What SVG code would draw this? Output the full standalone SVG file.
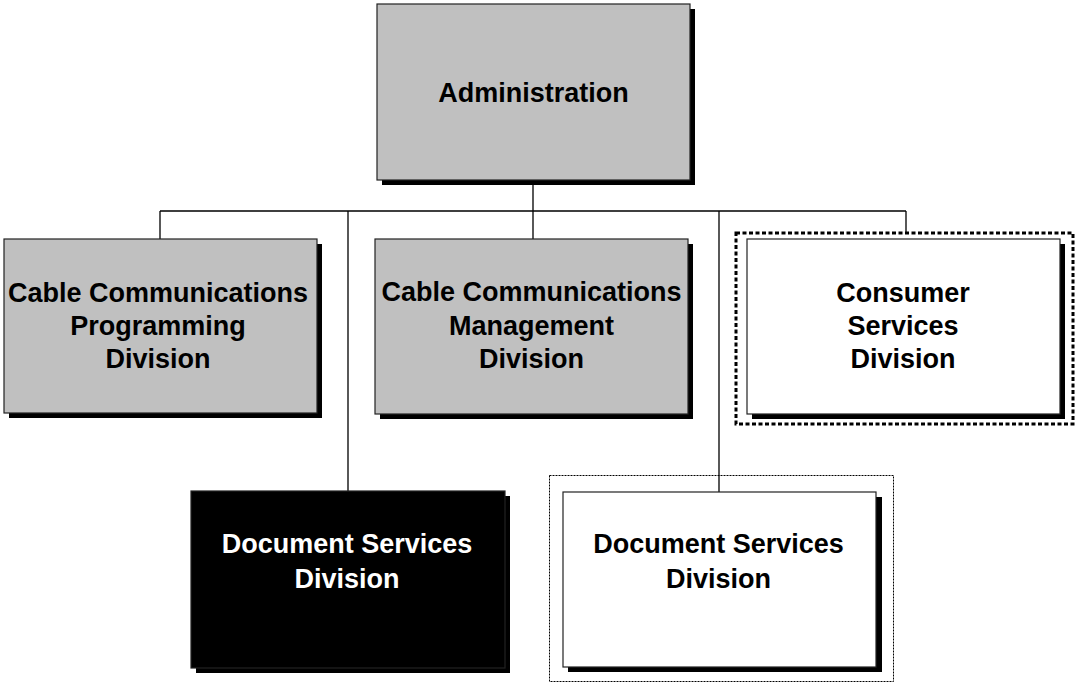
<svg xmlns="http://www.w3.org/2000/svg" width="1076" height="685" viewBox="0 0 1076 685">
<style>
.shadow{fill:#000}
.box{stroke:#222;stroke-width:1.2}
.gray{fill:#c0c0c0}
.white{fill:#fff}
.black{fill:#000}
.conn{stroke:#000;stroke-width:1.3;fill:none}
text{font-family:"Liberation Sans",Arial,sans-serif;font-weight:bold;font-size:27px;text-anchor:middle}
.dk{fill:#000}
.lt{fill:#fff}
.thickdot{fill:none;stroke:#000;stroke-width:3;stroke-dasharray:4 2.5}
.thindot{fill:none;stroke:#000;stroke-width:1;stroke-dasharray:2 1}
</style>
<rect width="1076" height="685" fill="#fff"/>
<g id="connectors">
<path class="conn" d="M533,181 V211 M160,211 H906 M160,211 V239 M348,211 V491 M533,211 V239 M719,211 V492 M906,211 V232"/>
</g>
<g id="administration">
<rect class="shadow" x="382" y="9" width="313" height="176"/>
<rect class="box gray" x="377" y="4" width="313" height="176"/>
<text class="dk" x="533.5" y="102">Administration</text>
</g>
<g id="cc-programming">
<rect class="shadow" x="9" y="244" width="313" height="174"/>
<rect class="box gray" x="4" y="239" width="313" height="174"/>
<text class="dk" x="158" y="302">Cable Communications</text>
<text class="dk" x="158" y="335">Programming</text>
<text class="dk" x="158" y="368">Division</text>
</g>
<g id="cc-management">
<rect class="shadow" x="380" y="244" width="313" height="175"/>
<rect class="box gray" x="375" y="239" width="313" height="175"/>
<text class="dk" x="531.5" y="301">Cable Communications</text>
<text class="dk" x="531.5" y="335">Management</text>
<text class="dk" x="531.5" y="368">Division</text>
</g>
<g id="consumer-services">
<rect class="thickdot" x="736" y="233" width="337" height="191"/>
<rect class="shadow" x="752" y="244" width="313" height="175"/>
<rect class="box white" x="747" y="239" width="313" height="175"/>
<text class="dk" x="903" y="302">Consumer</text>
<text class="dk" x="903" y="335">Services</text>
<text class="dk" x="903" y="368">Division</text>
</g>
<g id="document-services-black">
<rect class="shadow" x="196" y="496" width="314" height="177"/>
<rect class="box black" x="191" y="491" width="314" height="177"/>
<text class="lt" x="347" y="553">Document Services</text>
<text class="lt" x="347" y="588">Division</text>
</g>
<g id="document-services-white">
<rect class="thindot" x="549.5" y="475.5" width="344" height="206"/>
<rect class="shadow" x="568" y="497" width="314" height="175"/>
<rect class="box white" x="563" y="492" width="313" height="175"/>
<text class="dk" x="718.5" y="553">Document Services</text>
<text class="dk" x="718.5" y="588">Division</text>
</g>
</svg>
